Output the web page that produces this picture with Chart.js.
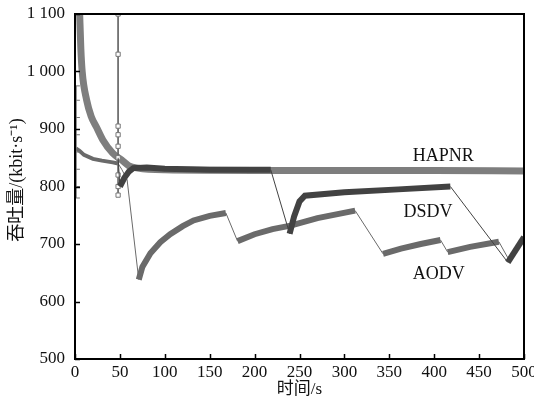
<!DOCTYPE html>
<html>
<head>
<meta charset="utf-8">
<script src="https://cdn.jsdelivr.net/npm/chart.js@4/dist/chart.umd.min.js"></script>
<style>
  html, body { margin: 0; padding: 0; background: #fff; }
  #wrap { width: 534px; height: 398px; }
</style>
</head>
<body>
<div id="wrap"><canvas id="chart" width="534" height="398"></canvas></div>
<script>
// values (time in s, throughput in kbit/s)
const hapnrX = [5, 6.5, 8, 13, 18, 24, 31, 42, 52, 60, 70, 100, 200, 300, 400, 500];
const hapnrY = [1110, 1040, 1000, 950, 922, 903, 881, 858, 846, 836, 832, 829, 828, 828, 828, 827];

const dsdvX = [48, 50, 55, 60, 65, 80, 100, 150, 218, 239, 244, 250, 256, 300, 360, 418, 482, 500];
const dsdvY = [850, 800, 815, 826, 832, 833, 831, 829, 829, 718, 748, 774, 784, 790, 795, 800, 668, 712];

const aodvX = [1, 5, 10, 20, 30, 42, 48, 52, 58, 71, 75, 84, 95, 106, 120, 132, 150, 168, 181, 200, 220, 240, 270, 312, 343, 363, 385, 407, 415, 440, 472, 482];
const aodvY = [866, 862, 855, 848, 845, 842, 840, 830, 812, 638, 660, 684, 703, 717, 731, 741, 749, 754, 705, 717, 726, 732, 745, 758, 683, 692, 700, 707, 686, 695, 704, 676];

// marker spike near 48 s and marker column at start
const spikeX = [48, 48, 48, 48, 48, 48, 48, 48, 48];
const spikeY = [1100, 1030, 905, 890, 870, 850, 820, 800, 785];
const startX = [1, 1, 1, 1, 1, 1, 1, 1];
const startY = [975, 950, 920, 890, 860, 830, 800, 780];

const xTicks = [0, 50, 100, 150, 200, 250, 300, 350, 400, 450, 500];
const yTicks = [500, 600, 700, 800, 900, 1000, 1100];

const seriesNames = ['HAPNR', 'DSDV', 'AODV'];

const pts = (xs, ys) => xs.map((x, i) => ({ x, y: ys[i] }));

const serif = '"Liberation Serif", "Times New Roman", serif';
const cjk = '"Liberation Serif", "Noto Sans CJK SC", serif';

// steep drops are drawn as a thin connector, the rest as a thick band
function bandWidth(thick) {
  return ctx => {
    const a = ctx.p0.parsed, b = ctx.p1.parsed;
    const slope = (b.y - a.y) / (b.x - a.x || 0.001);
    if (slope < -1.8) return 1;
    return a.x < 45 ? thick - 2 : thick;
  };
}

const labelPlugin = {
  id: 'decor',
  afterDraw(chart) {
    const { ctx, chartArea: a, scales } = chart;
    const xs = scales.x, ys = scales.y;
    ctx.save();
    // frame
    ctx.strokeStyle = '#000';
    ctx.lineWidth = 2;
    ctx.strokeRect(a.left, a.top, a.right - a.left, a.bottom - a.top);
    // inward ticks
    ctx.lineWidth = 1.5;
    ctx.beginPath();
    xTicks.forEach(v => {
      const px = Math.round(xs.getPixelForValue(v)) + 0.5;
      ctx.moveTo(px, a.bottom); ctx.lineTo(px, a.bottom - 5);
    });
    yTicks.forEach(v => {
      const py = Math.round(ys.getPixelForValue(v)) + 0.5;
      ctx.moveTo(a.left, py); ctx.lineTo(a.left + 5, py);
    });
    ctx.stroke();
    ctx.fillStyle = '#111';
    ctx.textAlign = 'center';
    ctx.textBaseline = 'middle';
    // x tick labels
    ctx.font = '17px ' + serif;
    xTicks.forEach(v => ctx.fillText(String(v), xs.getPixelForValue(v), a.bottom + 14));
    // series names
    ctx.font = '18px ' + serif;
    ctx.fillText(seriesNames[0], xs.getPixelForValue(410), ys.getPixelForValue(852));
    ctx.fillText(seriesNames[1], xs.getPixelForValue(393), ys.getPixelForValue(755));
    ctx.fillText(seriesNames[2], xs.getPixelForValue(405), ys.getPixelForValue(648));
    // axis titles
    ctx.font = '17px ' + cjk;
    ctx.fillText('时间/s', (a.left + a.right) / 2, 390);
    ctx.translate(17, 180);
    ctx.rotate(-Math.PI / 2);
    ctx.font = '18px ' + cjk;
    ctx.fillText('吞吐量/(kbit·s⁻¹)', 0, 0);
    ctx.restore();
  }
};

new Chart(document.getElementById('chart'), {
  type: 'line',
  data: {
    datasets: [
      {
        label: 'DSDV',
        data: pts(dsdvX, dsdvY),
        borderColor: '#424242',
        borderWidth: 6,
        segment: { borderWidth: bandWidth(6) },
        pointRadius: 0,
        tension: 0
      },
      {
        label: 'spike',
        data: pts(spikeX, spikeY),
        borderColor: '#6a6a6a',
        borderWidth: 1,
        pointStyle: 'rect',
        pointRadius: 3,
        pointBorderColor: '#777',
        pointBackgroundColor: '#fff',
        pointBorderWidth: 1
      },
      {
        label: 'start',
        data: pts(startX, startY),
        borderColor: '#777',
        borderWidth: 1,
        pointStyle: 'line',
        pointRadius: 4,
        pointBorderColor: '#777',
        pointBorderWidth: 1
      },
      {
        label: 'AODV',
        data: pts(aodvX, aodvY),
        borderColor: '#6a6a6a',
        borderWidth: 6,
        segment: { borderWidth: bandWidth(6) },
        pointRadius: 0,
        tension: 0
      },
      {
        label: 'HAPNR',
        data: pts(hapnrX, hapnrY),
        borderColor: '#7e7e7e',
        borderWidth: 7,
        pointRadius: 0,
        cubicInterpolationMode: 'monotone'
      }
    ]
  },
  options: {
    responsive: false,
    animation: false,
    layout: { padding: { left: 0, right: 10, top: 14, bottom: 0 } },
    plugins: { legend: { display: false }, tooltip: { enabled: false } },
    scales: {
      x: {
        type: 'linear',
        min: 0, max: 500,
        afterBuildTicks: s => { s.ticks = xTicks.map(v => ({ value: v })); },
        afterFit: s => { s.height = 39; },
        grid: { display: false },
        border: { display: false },
        ticks: { display: false }
      },
      y: {
        type: 'linear',
        min: 500, max: 1100,
        afterBuildTicks: s => { s.ticks = yTicks.map(v => ({ value: v })); },
        afterFit: s => { s.width = 75; },
        grid: { display: false },
        border: { display: false },
        ticks: {
          color: '#111', font: { family: serif, size: 17 }, padding: 2,
          callback: v => v >= 1000 ? String(v).replace(/^(\d)(\d{3})$/, '$1 $2') : String(v)
        }
      }
    }
  },
  plugins: [labelPlugin]
});
</script>
</body>
</html>
